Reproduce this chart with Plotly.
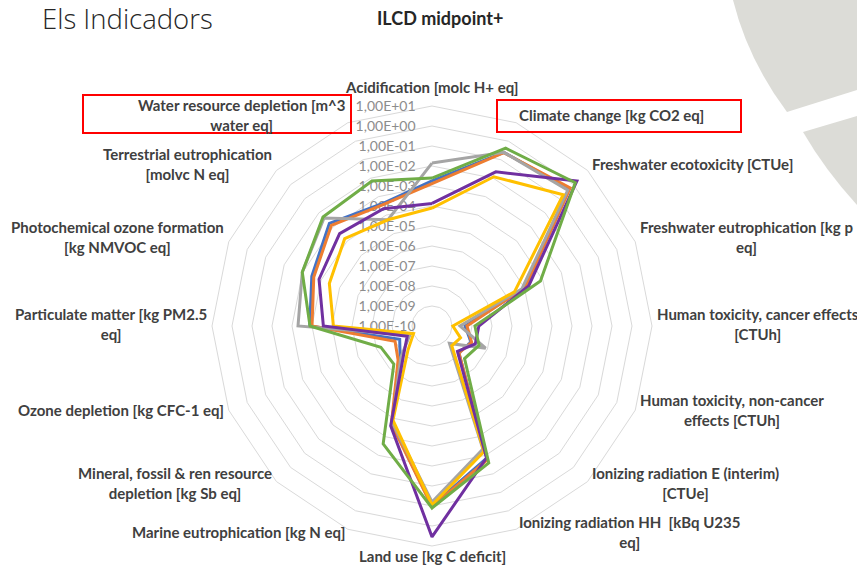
import math
import plotly.graph_objects as go

# ---------------- data ----------------
categories = [
    "Acidification [molc H+ eq]",
    "Climate change [kg CO2 eq]",
    "Freshwater ecotoxicity [CTUe]",
    "Freshwater eutrophication [kg p<br>eq]",
    "Human toxicity, cancer effects<br>[CTUh]",
    "Human toxicity, non-cancer<br>effects [CTUh]",
    "Ionizing radiation E (interim)<br>[CTUe]",
    "Ionizing radiation HH  [kBq U235<br>eq]",
    "Land use [kg C deficit]",
    "Marine eutrophication [kg N eq]",
    "Mineral, fossil & ren resource<br>depletion [kg Sb eq]",
    "Ozone depletion [kg CFC-1 eq]",
    "Particulate matter [kg PM2.5<br>eq]",
    "Photochemical ozone formation<br>[kg NMVOC eq]",
    "Terrestrial eutrophication<br>[molvc N eq]",
    "Water resource depletion [m^3<br>water eq]",
]

series_names = ["Sèrie 1", "Sèrie 2", "Sèrie 3", "Sèrie 4", "Sèrie 5", "Sèrie 6"]

blue_values = [1.8e-3, 2.5e-1, 5.0e-1, 1.1e-5, 4.5e-9, 1.3e-8, 8.0e-9, 1.4e-3,
               1.0e-1, 1.8e-5, 1.8e-8, 5.6e-9, 1.3e-4, 3.2e-4, 1.8e-3, 4.0e-4]
orange_values = [1.3e-3, 2.4e-1, 5.9e-1, 1.1e-5, 5.6e-9, 1.4e-8, 8.0e-9, 1.7e-3,
                 1.07e-1, 2.0e-5, 2.5e-8, 1.0e-8, 1.0e-4, 2.5e-4, 1.3e-3, 3.5e-4]
grey_values = [1.4e-2, 2.5e-1, 4.0e-1, 7.4e-6, 2.5e-9, 8.0e-8, 1.7e-9, 4.5e-4,
               6.3e-2, 1.6e-5, 1.6e-8, 1.6e-9, 5.0e-4, 1.05e-3, 4.3e-3, 5.6e-5]
yellow_values = [7.9e-5, 1.2e-2, 1.9e-1, 2.9e-6, 1.1e-9, 3.5e-9, 2.5e-9, 6.3e-4,
                 8.9e-2, 1.26e-5, 5.0e-9, 1.0e-9, 8.5e-6, 3.6e-5, 1.5e-4, 5.6e-5]
purple_values = [1.35e-4, 2.2e-2, 1.76, 1.7e-5, 2.2e-8, 2.2e-8, 6.3e-9, 1.35e-3,
                 3.5, 2.5e-5, 1.0e-8, 2.2e-9, 2.7e-5, 1.3e-4, 3.4e-4, 2.2e-4]
green_values = [2.5e-3, 4.2e-1, 1.35, 7.4e-5, 1.4e-8, 3.5e-8, 2.0e-8, 2.6e-3,
                1.26e-1, 2.4e-4, 5.0e-8, 5.9e-8, 1.26e-4, 1.05e-3, 5.1e-3, 7.1e-3]

tick_values = [1e-10, 1e-9, 1e-8, 1e-7, 1e-6, 1e-5, 1e-4, 1e-3, 1e-2, 1e-1, 1e0, 1e1]
tick_labels = ["1,00E-10", "1,00E-09", "1,00E-08", "1,00E-07", "1,00E-06", "1,00E-05",
               "1,00E-04", "1,00E-03", "1,00E-02", "1,00E-01", "1,00E+00", "1,00E+01"]

chart_title = "ILCD midpoint+"
slide_title = "Els Indicadors"

# ---------------- layout geometry ----------------
W, H = 857, 567
CX, CY, R = 432, 326, 220
LABEL_RX = 223        # horizontal anchor radius for side labels
LABEL_RY = 226        # vertical radius for side labels
LABEL_CY = 323.5      # vertical centre of the label ring
LABEL_R_TOP = 239     # centre radius for the top label
LABEL_R_BOTTOM = 230  # centre radius for the bottom label

series = [
    (series_names[0], blue_values, "#4472C4"),
    (series_names[1], orange_values, "#ED7D31"),
    (series_names[2], grey_values, "#A5A5A5"),
    (series_names[3], yellow_values, "#FFC000"),
    (series_names[4], purple_values, "#7030A0"),
    (series_names[5], green_values, "#70AD47"),
]

fig = go.Figure()
for name, vals, color in series:
    fig.add_trace(go.Scatterpolar(
        r=vals + vals[:1],
        theta=categories + categories[:1],
        mode="lines",
        name=name,
        line=dict(color=color, width=3),
        showlegend=False,
    ))

fig.update_layout(
    width=W, height=H,
    margin=dict(l=0, r=0, t=0, b=0),
    paper_bgcolor="white",
    plot_bgcolor="white",
    polar=dict(
        domain=dict(x=[(CX - R) / W, (CX + R) / W],
                    y=[1 - (CY + R) / H, 1 - (CY - R) / H]),
        bgcolor="rgba(0,0,0,0)",
        gridshape="linear",
        radialaxis=dict(
            type="log",
            range=[-10, 1],
            angle=90,
            side="counterclockwise",
            tickangle=90,
            tickvals=tick_values,
            ticktext=tick_labels,
            tickfont=dict(family="Lato", size=14, color="#8c8c8c"),
            showline=False,
            ticks="outside",
            ticklen=11,
            tickcolor="rgba(0,0,0,0)",
            gridcolor="#d9d9d9",
            gridwidth=1,
            layer="below traces",
        ),
        angularaxis=dict(
            direction="clockwise",
            rotation=90,
            showticklabels=False,
            ticks="",
            showgrid=False,
            showline=True,
            linecolor="#d9d9d9",
            linewidth=1,
            layer="below traces",
        ),
    ),
)

# category labels placed around the polygon
annotations = []
n = len(categories)
for i, lab in enumerate(categories):
    ang = math.radians(i * 360.0 / n)
    s, c = math.sin(ang), math.cos(ang)
    if c > 0.99:
        px, py = CX, CY - LABEL_R_TOP
    elif c < -0.99:
        px, py = CX, CY + LABEL_R_BOTTOM
    else:
        px = CX + LABEL_RX * s
        py = LABEL_CY - LABEL_RY * c
    if s > 0.1:
        xa = "left"
    elif s < -0.1:
        xa = "right"
    else:
        xa = "center"
    annotations.append(dict(
        x=px / W, y=1 - py / H, xref="paper", yref="paper",
        xanchor=xa, yanchor="middle", align="center", showarrow=False,
        text="<b>" + lab + "</b>",
        font=dict(family="Lato", size=15, color="#404040"),
    ))

annotations.append(dict(
    x=440 / W, y=1 - 18 / H, xref="paper", yref="paper", xanchor="center", yanchor="middle",
    showarrow=False, text="<b>" + chart_title + "</b>",
    font=dict(family="Lato", size=18, color="#262626"),
))
annotations.append(dict(
    x=40 / W, y=1 - 18 / H, xref="paper", yref="paper", xanchor="left", yanchor="middle",
    showarrow=False, text=slide_title,
    font=dict(family="Open Sans", size=27.5, color="#262626", weight=300),
))
fig.update_layout(annotations=annotations)


def p(x, y):
    return f"{x / W:.4f},{1 - y / H:.4f}"


shapes = [
    # decorative slide graphic (top right)
    dict(type="path", xref="paper", yref="paper", layer="below",
         path=f"M {p(733, 0)} Q {p(748, 60)} {p(787, 112)} L {p(857, 90)} L {p(857, 0)} Z",
         fillcolor="#dcdcd7", line=dict(width=0)),
    dict(type="path", xref="paper", yref="paper", layer="below",
         path=f"M {p(803, 132)} L {p(857, 116)} L {p(857, 205)} Q {p(825, 170)} {p(803, 132)} Z",
         fillcolor="#dcdcd7", line=dict(width=0)),
    # red highlight boxes
    dict(type="rect", xref="paper", yref="paper",
         x0=83 / W, x1=351 / W, y0=1 - 133 / H, y1=1 - 95 / H,
         line=dict(color="#ff0000", width=2)),
    dict(type="rect", xref="paper", yref="paper",
         x0=497 / W, x1=741 / W, y0=1 - 132 / H, y1=1 - 100 / H,
         line=dict(color="#ff0000", width=2)),
]
fig.update_layout(shapes=shapes)

fig.write_html(
    "out.html",
    config={"displayModeBar": False},
    post_script="document.body.style.margin='0px';document.body.style.overflow='hidden';",
)
